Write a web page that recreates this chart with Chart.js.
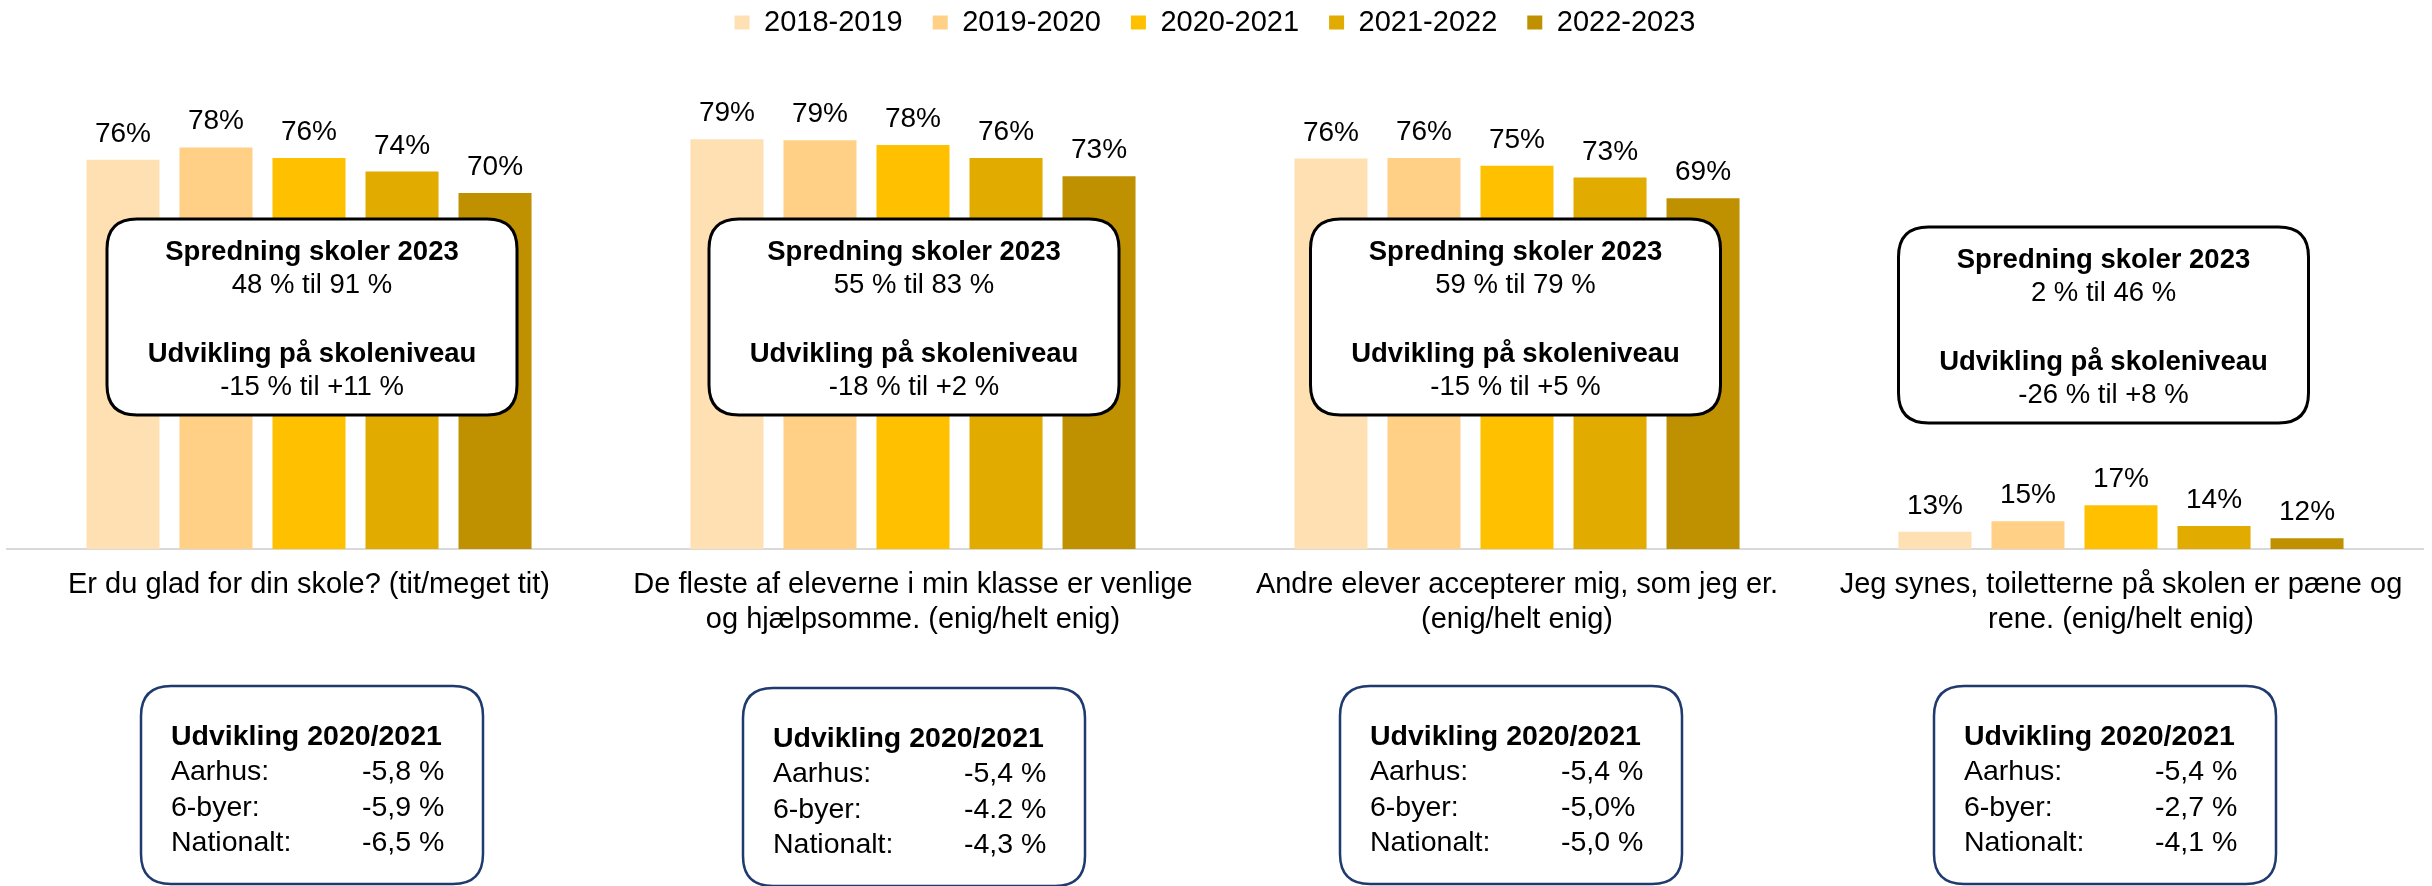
<!DOCTYPE html>
<html>
<head>
<meta charset="utf-8">
<script src="https://cdn.jsdelivr.net/npm/chart.js@4.4.1/dist/chart.umd.min.js"></script>
<style>
  html, body { margin: 0; padding: 0; background: #ffffff; overflow: hidden; }
  canvas { display: block; }
</style>
</head>
<body>
<canvas id="myChart" width="2432" height="886"></canvas>
<script>
// Categories (questions), one label per line
const questions = [
  ["Er du glad for din skole? (tit/meget tit)"],
  ["De fleste af eleverne i min klasse er venlige", "og hjælpsomme. (enig/helt enig)"],
  ["Andre elever accepterer mig, som jeg er.", "(enig/helt enig)"],
  ["Jeg synes, toiletterne på skolen er pæne og", "rene. (enig/helt enig)"],
];

const seasons = ["2018-2019", "2019-2020", "2020-2021", "2021-2022", "2022-2023"];
const seasonColors = ["#FFE0B3", "#FFD086", "#FFC000", "#E1AB00", "#BF9000"];

// share in % per season, one value per question
const values1819 = [75.9, 79.4, 76.1, 12.9];
const values1920 = [78.0, 79.2, 76.2, 14.7];
const values2021 = [76.2, 78.4, 74.9, 17.4];
const values2122 = [73.9, 76.2, 72.9, 13.9];
const values2223 = [70.3, 73.1, 69.4, 11.8];

// text boxes
const spreadRange = ["48 % til 91 %", "55 % til 83 %", "59 % til 79 %", "2 % til 46 %"];
const schoolRange = ["-15 % til +11 %", "-18 % til +2 %", "-15 % til +5 %", "-26 % til +8 %"];
const devAarhus = ["-5,8 %", "-5,4 %", "-5,4 %", "-5,4 %"];
const devSixCities = ["-5,9 %", "-4.2 %", "-5,0%", "-2,7 %"];
const devNational = ["-6,5 %", "-4,3 %", "-5,0 %", "-4,1 %"];

const FONT = '"Liberation Sans", Arial, sans-serif';
Chart.defaults.font.family = FONT;
Chart.defaults.color = "#000000";

const allValues = [values1819, values1920, values2021, values2122, values2223];

const data = {
  labels: questions,
  datasets: seasons.map((season, i) => ({
    label: season,
    data: allValues[i],
    backgroundColor: seasonColors[i],
    borderWidth: 0,
    categoryPercentage: 0.77,
    barPercentage: 0.785,
  })),
};

function roundBox(ctx, x, y, w, h, r) {
  ctx.beginPath();
  ctx.moveTo(x + r, y);
  ctx.lineTo(x + w - r, y);
  ctx.quadraticCurveTo(x + w, y, x + w, y + r);
  ctx.lineTo(x + w, y + h - r);
  ctx.quadraticCurveTo(x + w, y + h, x + w - r, y + h);
  ctx.lineTo(x + r, y + h);
  ctx.quadraticCurveTo(x, y + h, x, y + h - r);
  ctx.lineTo(x, y + r);
  ctx.quadraticCurveTo(x, y, x + r, y);
  ctx.closePath();
}

// value labels on top of the bars + the "Spredning" boxes
const barLabels = {
  id: "barLabels",
  afterDatasetsDraw(chart) {
    const { ctx, chartArea } = chart;
    ctx.save();
    ctx.font = "28px " + FONT;
    ctx.fillStyle = "#000000";
    ctx.textAlign = "center";
    ctx.textBaseline = "alphabetic";
    chart.data.datasets.forEach((dataset, i) => {
      chart.getDatasetMeta(i).data.forEach((bar, index) => {
        ctx.fillText(Math.round(dataset.data[index]) + "%", bar.x, bar.y - 18);
      });
    });

    const xScale = chart.scales.x;
    const shiftX = [3, 1, -1.5, -17.5];
    const shiftY = [0, 0, 0, 8];
    questions.forEach((q, i) => {
      const cx = xScale.getPixelForValue(i) + shiftX[i];
      const top = chartArea.bottom - 330 + shiftY[i];
      const w = 410;
      const h = 196;
      roundBox(ctx, cx - w / 2, top, w, h, 30);
      ctx.fillStyle = "#ffffff";
      ctx.fill();
      ctx.lineWidth = 3;
      ctx.strokeStyle = "#000000";
      ctx.stroke();

      ctx.fillStyle = "#000000";
      ctx.textAlign = "center";
      ctx.font = "bold 27.5px " + FONT;
      ctx.fillText("Spredning skoler 2023", cx, top + 41);
      ctx.font = "27.5px " + FONT;
      ctx.fillText(spreadRange[i], cx, top + 74);
      ctx.font = "bold 27.5px " + FONT;
      ctx.fillText("Udvikling på skoleniveau", cx, top + 142.5);
      ctx.font = "27.5px " + FONT;
      ctx.fillText(schoolRange[i], cx, top + 175.5);
    });
    ctx.restore();
  },
};

// "Udvikling 2020/2021" boxes under the axis labels
const devBoxes = {
  id: "devBoxes",
  afterDraw(chart) {
    const { ctx, chartArea } = chart;
    const xScale = chart.scales.x;
    const shiftX = [-168, -170, -177, -187];
    const shiftY = [0, 2, 0, 0];
    ctx.save();
    questions.forEach((q, i) => {
      const left = xScale.getPixelForValue(i) + shiftX[i];
      const top = chartArea.bottom + 137 + shiftY[i];
      roundBox(ctx, left, top, 342, 198, 30);
      ctx.fillStyle = "#ffffff";
      ctx.fill();
      ctx.lineWidth = 2.5;
      ctx.strokeStyle = "#1F3A6E";
      ctx.stroke();

      ctx.fillStyle = "#000000";
      ctx.textAlign = "left";
      ctx.textBaseline = "alphabetic";
      ctx.font = "bold 28.5px " + FONT;
      ctx.fillText("Udvikling 2020/2021", left + 30, top + 59);
      ctx.font = "28.5px " + FONT;
      const rows = [["Aarhus:", devAarhus[i]], ["6-byer:", devSixCities[i]], ["Nationalt:", devNational[i]]];
      rows.forEach((row, r) => {
        const y = top + 94 + r * 35.5;
        ctx.fillText(row[0], left + 30, y);
        ctx.fillText(row[1], left + 221, y);
      });
    });
    ctx.restore();
  },
};

const config = {
  type: "bar",
  data: data,
  options: {
    responsive: false,
    animation: false,
    devicePixelRatio: 1,
    layout: {
      padding: { top: -22, left: 7, right: 9, bottom: 0 },
    },
    plugins: {
      legend: {
        position: "top",
        labels: {
          boxWidth: 15,
          boxHeight: 14,
          padding: 30,
          color: "#000000",
          font: { size: 29 },
        },
      },
      tooltip: { enabled: false },
    },
    scales: {
      x: {
        grid: { display: false, drawTicks: false },
        border: { display: true, color: "#D9D9D9", width: 2 },
        ticks: {
          color: "#000000",
          font: { size: 29 },
          padding: 19,
          autoSkip: false,
          maxRotation: 0,
        },
        afterFit(scale) {
          scale.height = 337;
        },
      },
      y: {
        display: false,
        min: 10,
        max: 95,
      },
    },
  },
  plugins: [barLabels, devBoxes],
};

const myChart = new Chart(document.getElementById("myChart"), config);
</script>
</body>
</html>
